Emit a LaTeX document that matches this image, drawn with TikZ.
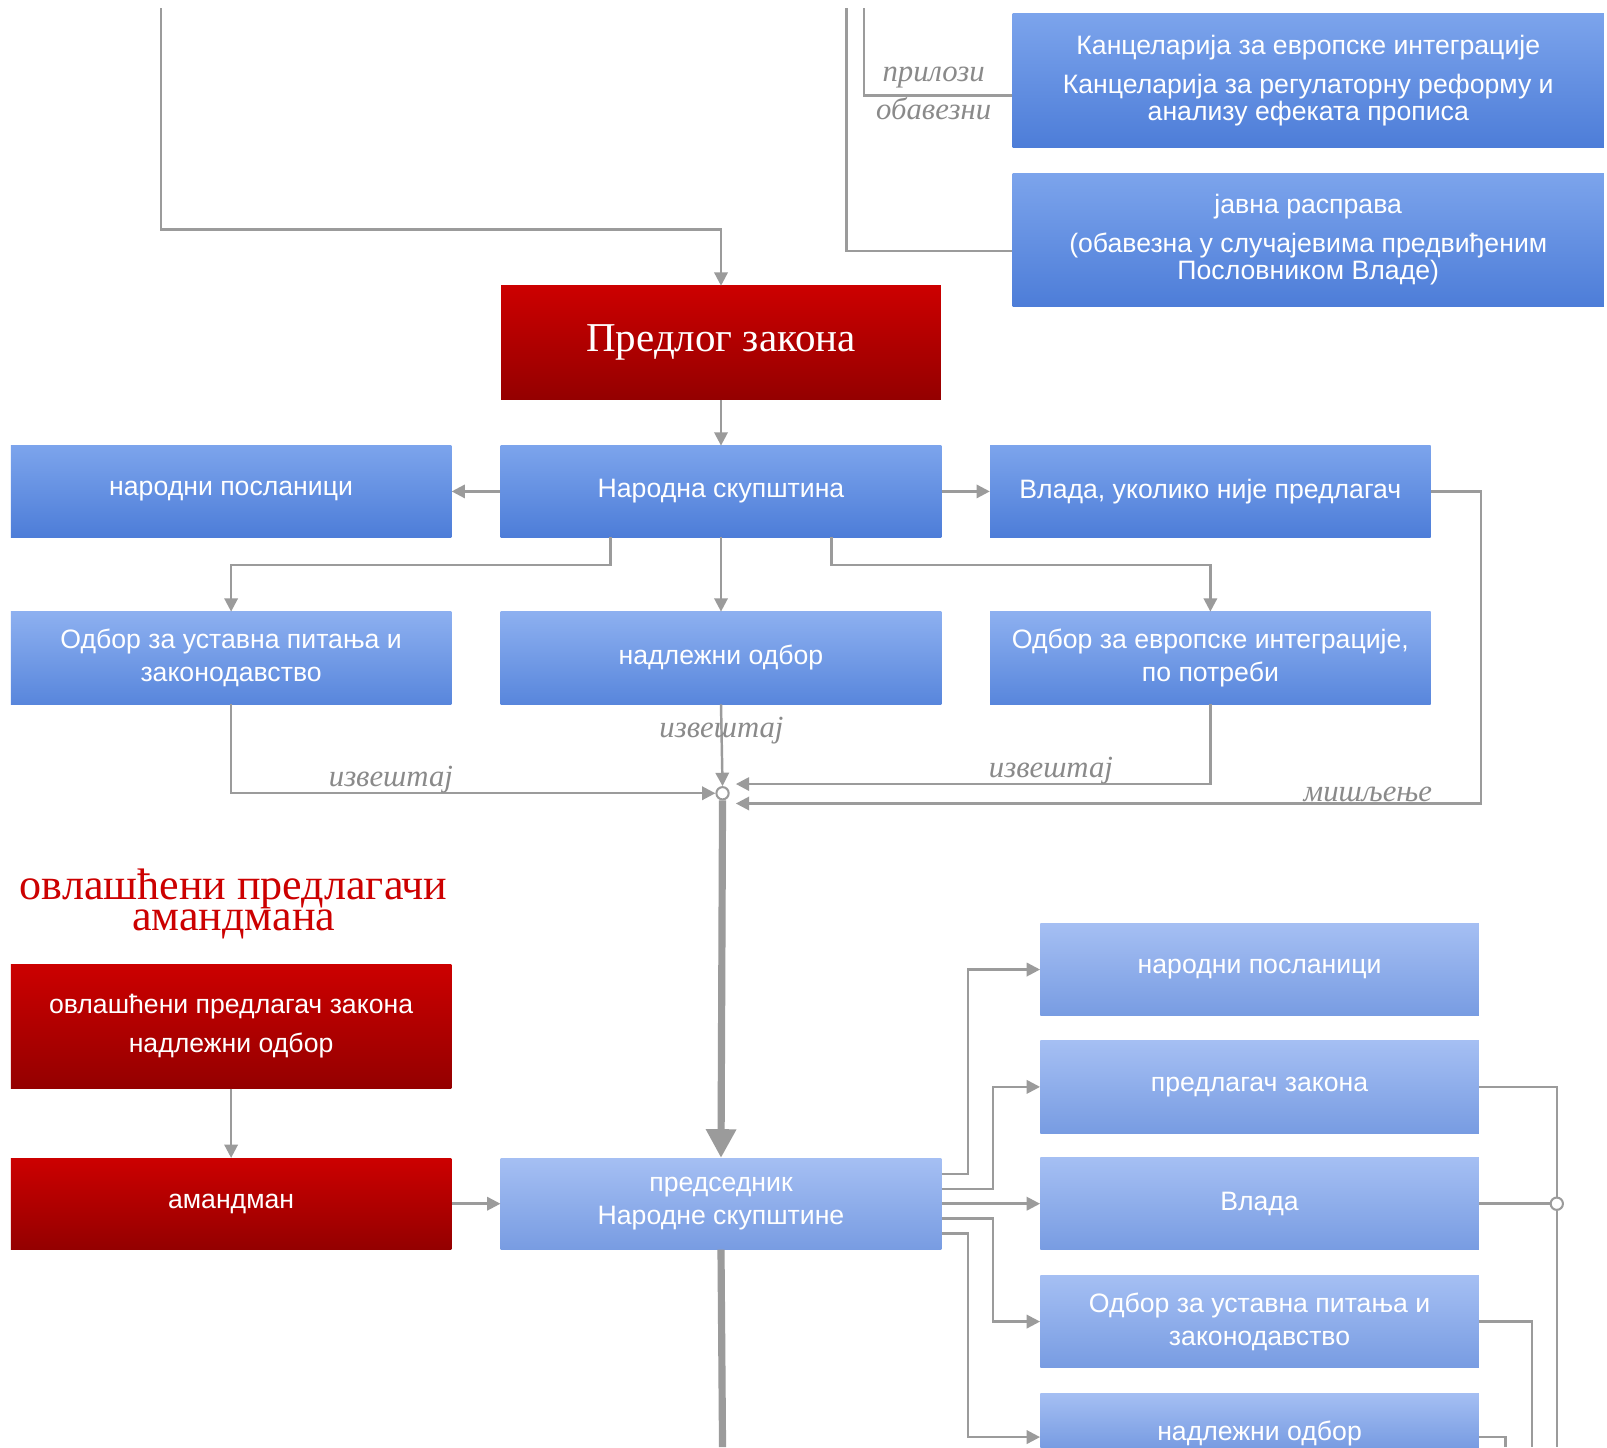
\documentclass[tikz,border=0pt]{standalone}
\usepackage{fontspec}
\setmainfont{Liberation Serif}
\newfontfamily\boxfont{Liberation Sans}
\usetikzlibrary{arrows.meta,positioning,calc}
\definecolor{zakRed}{HTML}{CC0000}
\definecolor{zakRedDark}{HTML}{940000}
\definecolor{zakBlue}{HTML}{7CA4EC}
\definecolor{zakBlueDark}{HTML}{4D7DD8}
\definecolor{zakMid}{HTML}{8DB0F0}
\definecolor{zakMidDark}{HTML}{5886DC}
\definecolor{zakSky}{HTML}{A5BFF3}
\definecolor{zakSkyDark}{HTML}{789CE2}
\definecolor{zakLine}{HTML}{9B9B9B}
\definecolor{zakNote}{HTML}{8A8A8A}

\begin{document}
\begin{tikzpicture}[x=1pt,y=-1pt,>={Triangle[width=13pt,length=13pt]},line join=miter]
\useasboundingbox[fill=white] (0,0) rectangle (1568,1412);
\tikzset{box/.style={rectangle,minimum width=430pt,minimum height=90pt,inner sep=0pt,align=center,text=white,font=\boxfont\fontsize{26}{32}\selectfont},
  bluebox/.style={box,top color=zakBlue,bottom color=zakBlueDark},
  midbox/.style={box,top color=zakMid,bottom color=zakMidDark},
  skybox/.style={box,top color=zakSky,bottom color=zakSkyDark},
  redbox/.style={box,top color=zakRed,bottom color=zakRedDark},
  conn/.style={draw=zakLine,line width=2.4pt},
  fat/.style={draw=zakLine,line width=7pt},
  note/.style={text=zakNote,font=\itshape\fontsize{30}{24}\selectfont,inner sep=1pt},
  junc/.style={circle,draw=zakLine,line width=2pt,fill=white,minimum size=12pt,inner sep=0pt}}

% upper part: proposal
\node[bluebox,minimum width=577pt,minimum height=131pt,font=\boxfont\fontsize{26}{26}\selectfont] (kanc) at (1276.5,78.5) {Канцеларија за европске интеграције\\[12pt]Канцеларија за регулаторну реформу и\\анализу ефеката прописа};
\node[bluebox,minimum width=577pt,minimum height=130pt,font=\boxfont\fontsize{26}{26}\selectfont] (javna) at (1276.5,234) {јавна расправа\\[12pt](обавезна у случајевима предвиђеним\\Пословником Владе)};
\node[redbox,minimum width=429pt,minimum height=111pt,font=\fontsize{40}{42}\selectfont] (predlog) at (703.5,334.5) {Предлог закона};

\coordinate (inA) at (157,8);
\coordinate (inB) at (826,8);
\coordinate (inC) at (843,8);
\draw[conn,->] (inA) |- ($(predlog.north)+(0,-55)$) -- (predlog.north);
\draw[conn] (inB) |- ($(javna.west)+(0,11)$);
\draw[conn] (inC) |- ($(kanc.west)+(0,14.5)$);
\node[note] (prilozi) at (911,76) {прилози};
\node[note] (obavezni) at (911,106) {обавезни};

% parliament
\node[bluebox,minimum height=89pt] (np) at (225.5,479.5) {народни посланици};
\node[bluebox,minimum height=89pt] (ns) at (703.5,479.5) {Народна скупштина};
\node[bluebox,minimum height=89pt] (vlada) at (1181,479.5) {Влада, уколико није предлагач};
\node[midbox] (odbU) at (225.5,642) {Одбор за уставна питања и\\законодавство};
\node[midbox] (nad) at (703.5,642) {надлежни одбор};
\node[midbox] (odbE) at (1181,642) {Одбор за европске интеграције,\\по потреби};
\node[junc] (j1) at (705,774) {};

\draw[conn,->] (predlog.south) -- (ns.north);
\draw[conn,->] (ns.west) -- (np.east);
\draw[conn,->] (ns.east) -- (vlada.west);
\draw[conn,->] ([xshift=-108pt]ns.south) -- ++(0,27) -| (odbU.north);
\draw[conn,->] (ns.south) -- (nad.north);
\draw[conn,->] ([xshift=108pt]ns.south) -- ++(0,27) -| (odbE.north);

\draw[conn,->] (nad.south) -- (j1.north) node[note,pos=0.32] {извештај};
\draw[conn,->] (odbU.south) |- (j1.west) node[note,pos=0.665,above=-2pt] {извештај};
\draw[conn,->] (odbE.south) |- ($(j1)+(13,-9)$) node[note,pos=0.668,above=-2pt] {извештај};
\draw[conn,->] (vlada.east) -- ++(49,0) |- ($(j1)+(13,10)$) node[note,pos=0.576,above=-1pt] {мишљење};

% amendments
\node[text=zakRed,font=\fontsize{43}{31}\selectfont,align=center] (naslov) at (228,882) {овлашћени предлагачи\\амандмана};
\node[redbox,minimum height=121pt] (ovl) at (225.5,1001.5) {овлашћени предлагач закона\\[6pt]надлежни одбор};
\node[redbox,minimum height=89pt] (am) at (225.5,1174.5) {амандман};
\node[skybox,minimum height=89pt] (pred) at (703.5,1174.5) {председник\\Народне скупштине};

\node[skybox,minimum width=428pt] (np2) at (1229,946) {народни посланици};
\node[skybox,minimum width=428pt] (plg) at (1229,1060.5) {предлагач закона};
\node[skybox,minimum width=428pt] (vl2) at (1229,1174.5) {Влада};
\node[skybox,minimum width=428pt] (odb2) at (1229,1289.5) {Одбор за уставна питања и\\законодавство};
\node[skybox,minimum width=428pt,minimum height=53pt,text height=46pt,text depth=7pt,anchor=north] (nad2) at (1229,1359) {надлежни одбор};
\node[junc] (j2) at (1519,1174.5) {};

\draw[fat,-{Triangle[width=28pt,length=28pt]}] (j1.south) -- (pred.north);
\coordinate (outP) at (705,1412);
\draw[fat] (pred.south) -- (outP);
\draw[conn,->] (ovl.south) -- (am.north);
\draw[conn,->] (am.east) -- (pred.west);

\draw[conn,->] ([yshift=29pt]pred.east) -- ++(26,0) |- (np2.west);
\draw[conn,->] ([yshift=14.5pt]pred.east) -- ++(50,0) |- (plg.west);
\draw[conn,->] (pred.east) -- (vl2.west);
\draw[conn,->] ([yshift=-14.5pt]pred.east) -- ++(50,0) |- (odb2.west);
\draw[conn,->] ([yshift=-29pt]pred.east) -- ++(26,0) |- ([yshift=3pt]nad2.base west);

\coordinate (outJ) at (1519,1412);
\coordinate (outO) at (1495,1412);
\coordinate (outN) at (1469,1412);
\draw[conn] (plg.east) -| (j2.north);
\draw[conn] (vl2.east) -- (j2.west);
\draw[conn] (j2.south) -- (outJ);
\draw[conn] (odb2.east) -| (outO);
\draw[conn] ([yshift=3pt]nad2.base east) -| (outN);
\end{tikzpicture}
\end{document}
